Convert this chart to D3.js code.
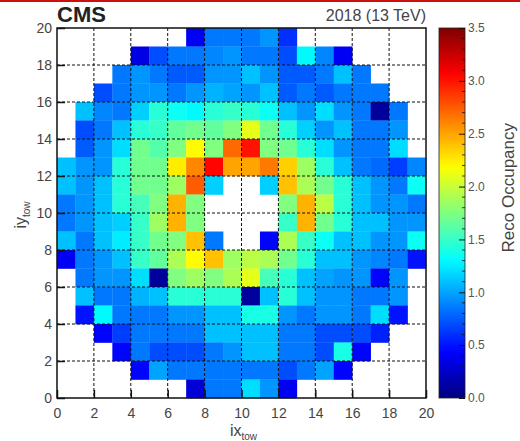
<!DOCTYPE html>
<html>
<head>
<meta charset="utf-8">
<script src="https://cdn.jsdelivr.net/npm/d3@7"></script>
<style>
  html, body { margin: 0; padding: 0; background: #fff; }
  svg { display: block; font-family: "Liberation Sans", Arial, Helvetica, sans-serif; }
</style>
</head>
<body>
<div id="chart"></div>
<script>
// Reco occupancy per tower, rows from iy = 19 (top) down to iy = 0, columns ix = 0..19
// null = no entry (drawn white)
const n = null;
const occupancy = [
  [n, n, n, n, n, n, n, 0.40, 0.85, 0.85, 0.85, 0.95, 0.60, n, n, n, n, n, n, n],
  [n, n, n, n, 0.35, 0.70, 0.85, 0.85, 0.90, 0.95, 0.85, 0.85, 0.70, 1.30, 0.90, 0.40, n, n, n, n],
  [n, n, n, 0.85, 0.95, 0.85, 0.75, 0.75, 0.95, 0.95, 1.10, 0.95, 0.75, 0.75, 0.85, 1.10, 0.85, n, n, n],
  [n, n, 0.70, 0.85, 0.95, 0.95, 0.85, 0.95, 1.05, 1.00, 0.95, 1.10, 0.75, 0.85, 0.75, 0.85, 0.85, 0.85, n, n],
  [n, 1.10, 0.90, 0.85, 1.15, 1.45, 1.35, 1.30, 1.45, 1.50, 1.45, 1.35, 1.10, 0.95, 1.20, 0.95, 0.85, 0.10, 0.85, n],
  [n, 0.70, 0.85, 1.10, 1.45, 1.50, 1.65, 1.70, 1.65, 1.75, 2.10, 1.70, 1.45, 1.15, 0.95, 1.10, 0.85, 0.85, 0.95, n],
  [n, 0.75, 0.95, 1.20, 1.70, 1.60, 1.75, 2.20, 1.75, 2.70, 3.00, 1.75, 1.70, 1.45, 1.20, 0.95, 0.85, 0.85, 1.20, n],
  [1.10, 0.95, 0.95, 1.45, 1.70, 1.70, 2.25, 2.60, 3.05, 2.50, 2.50, 2.65, 2.35, 1.85, 1.45, 1.10, 0.85, 0.80, 0.65, 0.90],
  [1.10, 0.95, 1.10, 1.45, 1.70, 1.70, 1.85, 2.75, 1.15, n, n, 1.15, 2.40, 1.90, 1.70, 1.45, 1.10, 0.95, 0.85, 1.35],
  [0.85, 0.95, 1.10, 1.45, 1.55, 1.75, 2.45, 1.75, n, n, n, n, 1.75, 2.45, 1.95, 1.45, 1.10, 0.95, 0.95, 0.85],
  [0.85, 0.95, 1.10, 1.15, 1.50, 1.85, 2.45, 1.75, n, n, n, n, 1.50, 2.45, 1.70, 1.45, 1.10, 1.10, 0.95, 0.95],
  [1.10, 0.85, 1.10, 1.25, 1.50, 1.70, 1.75, 2.40, 0.85, n, n, 0.45, 1.90, 1.50, 1.35, 1.10, 1.10, 0.95, 0.95, 1.35],
  [0.40, 0.85, 0.95, 1.10, 1.50, 1.65, 1.90, 2.20, 2.40, 1.85, 1.95, 1.90, 1.70, 1.45, 1.10, 1.10, 0.95, 0.90, 0.85, 0.50],
  [n, 0.85, 0.95, 0.95, 1.20, 0.10, 1.75, 1.85, 1.75, 1.90, 2.10, 1.55, 1.45, 1.10, 1.00, 0.95, 0.95, 0.45, 0.95, n],
  [n, 1.10, 0.85, 0.85, 1.05, 1.10, 1.45, 1.45, 1.45, 1.45, 0.10, 1.10, 1.45, 1.10, 0.95, 0.95, 0.85, 0.85, 0.95, n],
  [n, 0.50, 1.30, 0.85, 0.85, 0.85, 0.95, 0.95, 1.10, 1.10, 1.40, 1.40, 0.95, 0.85, 0.95, 0.95, 0.85, 1.20, 0.50, n],
  [n, n, 0.45, 0.65, 0.85, 0.85, 0.85, 0.85, 1.10, 1.10, 1.10, 1.10, 0.85, 0.85, 0.70, 0.70, 0.70, 0.55, n, n],
  [n, n, n, 0.45, 0.85, 0.70, 0.70, 0.70, 0.85, 0.95, 1.10, 1.10, 0.85, 0.85, 0.70, 1.40, 0.45, n, n, n],
  [n, n, n, n, 0.45, 1.00, 0.85, 0.85, 0.85, 0.85, 0.85, 0.85, 0.70, 0.85, 1.00, 0.45, n, n, n, n],
  [n, n, n, n, n, n, n, 0.30, 0.85, 0.85, 1.20, 0.95, 0.40, n, n, n, n, n, n, n]
];

const axisTicks = [0, 2, 4, 6, 8, 10, 12, 14, 16, 18, 20];
const zTicks = [0, 0.5, 1.0, 1.5, 2.0, 2.5, 3.0, 3.5];
const zRange = [0, 3.5];
const xTitle = "ix";
const yTitle = "iy";
const axisSub = "tow";
const zTitle = "Reco Occupancy";
const leftLabel = "CMS";
const rightLabel = "2018 (13 TeV)";

const W = 520, H = 441;
const plot = { left: 57, right: 426, top: 28, bottom: 398 };
const bar = { left: 439, right: 465 };

const svg = d3.select('#chart').append('svg')
  .attr('width', W)
  .attr('height', H);

// border of the screenshot
svg.append('rect').attr('x', 0).attr('y', 0).attr('width', W).attr('height', 2).attr('fill', '#cc1010');

const x = d3.scaleLinear().domain([0, 20]).range([plot.left, plot.right]);
const y = d3.scaleLinear().domain([0, 20]).range([plot.bottom, plot.top]);

// jet-like palette
const color = d3.scaleLinear()
  .domain([0, 0.4375, 1.3125, 2.1875, 3.0625, 3.5])
  .range(['#00007f', '#0000ff', '#00ffff', '#ffff00', '#ff0000', '#7f0000'])
  .clamp(true);

const cells = [];
occupancy.forEach((row, r) => {
  const iy = 19 - r;
  row.forEach((v, ix) => { if (v !== null) cells.push({ ix, iy, v }); });
});

svg.append('g')
  .selectAll('rect')
  .data(cells)
  .enter()
  .append('rect')
  .attr('x', d => x(d.ix))
  .attr('y', d => y(d.iy + 1))
  .attr('width', x(1) - x(0) + 0.3)
  .attr('height', y(0) - y(1) + 0.3)
  .attr('fill', d => color(d.v));

// dotted grid
const inner = axisTicks.filter(t => t > 0 && t < 20);
const grid = svg.append('g').attr('stroke', '#111').attr('stroke-width', 1).attr('stroke-dasharray', '3,2');
grid.selectAll('.gx').data(inner).enter().append('line')
  .attr('x1', d => x(d)).attr('x2', d => x(d))
  .attr('y1', plot.top).attr('y2', plot.bottom);
grid.selectAll('.gy').data(inner).enter().append('line')
  .attr('y1', d => y(d)).attr('y2', d => y(d))
  .attr('x1', plot.left).attr('x2', plot.right);

// axes (ticks inside the frame)
const xAxis = d3.axisBottom(x).tickValues(axisTicks).tickSize(-8).tickPadding(10).tickFormat(d3.format('d'));
const yAxis = d3.axisLeft(y).tickValues(axisTicks).tickSize(-8).tickPadding(5).tickFormat(d3.format('d'));

const gx = svg.append('g').attr('transform', `translate(0,${plot.bottom})`).call(xAxis);
const gy = svg.append('g').attr('transform', `translate(${plot.left},0)`).call(yAxis);
[gx, gy].forEach(g => {
  g.select('.domain').remove();
  g.selectAll('line').attr('stroke', '#111').attr('stroke-width', 1.5);
  g.selectAll('text').attr('fill', '#444').style('font-size', '14px');
});

svg.append('rect')
  .attr('x', plot.left).attr('y', plot.top)
  .attr('width', plot.right - plot.left).attr('height', plot.bottom - plot.top)
  .attr('fill', 'none').attr('stroke', '#111').attr('stroke-width', 1.5);

// axis titles
const xt = svg.append('text')
  .attr('x', (plot.left + plot.right) / 2 + 2).attr('y', 436)
  .attr('text-anchor', 'middle').attr('fill', '#444').style('font-size', '16px');
xt.append('tspan').text(xTitle);
xt.append('tspan').attr('dy', 4).style('font-size', '10px').text(axisSub);

const yt = svg.append('text')
  .attr('transform', `translate(26,${(plot.top + plot.bottom) / 2 + 2}) rotate(-90)`)
  .attr('text-anchor', 'middle').attr('fill', '#444').style('font-size', '16px');
yt.append('tspan').text(yTitle);
yt.append('tspan').attr('dy', 4).style('font-size', '10px').text(axisSub);

// labels on top
svg.append('text').attr('x', plot.left).attr('y', 22)
  .attr('fill', '#222').style('font-size', '22px').style('font-weight', 'bold')
  .text(leftLabel);
svg.append('text').attr('x', plot.right).attr('y', 21)
  .attr('text-anchor', 'end').attr('fill', '#444').style('font-size', '16px')
  .text(rightLabel);

// colour bar
const z = d3.scaleLinear().domain(zRange).range([plot.bottom, plot.top]);
const grad = svg.append('defs').append('linearGradient')
  .attr('id', 'zgrad').attr('x1', 0).attr('x2', 0).attr('y1', 1).attr('y2', 0);
grad.selectAll('stop').data(d3.range(0, 1.0001, 0.02)).enter().append('stop')
  .attr('offset', d => d)
  .attr('stop-color', d => color(zRange[0] + d * (zRange[1] - zRange[0])));

svg.append('rect')
  .attr('x', bar.left).attr('y', plot.top)
  .attr('width', bar.right - bar.left).attr('height', plot.bottom - plot.top)
  .attr('fill', 'url(#zgrad)').attr('stroke', '#222').attr('stroke-width', 0.8);

const zAxis = d3.axisRight(z).tickValues(zTicks).tickSize(-6).tickPadding(3).tickFormat(d3.format('.1f'));
const gz = svg.append('g').attr('transform', `translate(${bar.right},0)`).call(zAxis);
gz.select('.domain').remove();
gz.selectAll('line').attr('stroke', '#111').attr('stroke-width', 1);
gz.selectAll('text').attr('fill', '#555').style('font-size', '12px');

svg.append('g').selectAll('line')
  .data(d3.range(0, 35).map(i => i / 10).filter(v => Math.round(v * 10) % 5 !== 0))
  .enter().append('line')
  .attr('x1', bar.right - 3).attr('x2', bar.right)
  .attr('y1', d => z(d)).attr('y2', d => z(d))
  .attr('stroke', '#111').attr('stroke-width', 0.8);

svg.append('text')
  .attr('transform', `translate(514,${plot.top + 95}) rotate(-90)`)
  .attr('text-anchor', 'end').attr('fill', '#444').style('font-size', '17px')
  .text(zTitle);
</script>
</body>
</html>
